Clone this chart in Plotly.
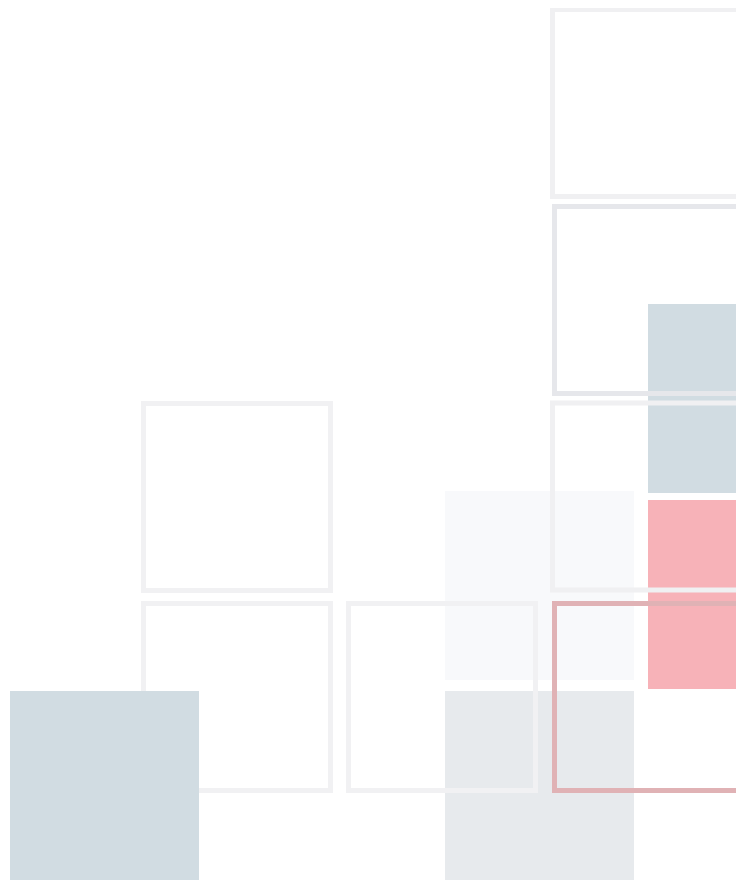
import plotly.graph_objects as go

# Outline squares (grey), centre positions in plot units
outline_x = [646, 648, 646, 237, 237, 442]
outline_y = [103, 300, 496.5, 497, 697, 697]
outline_colors = ["#f0f0f2", "#e6e7eb", "#f0f0f2", "#f1f1f3", "#f1f1f3", "#f1f1f3"]

# Highlighted outline square (pink)
hl_x = [648]
hl_y = [697]

# Filled squares drawn beneath the outlines (centre x, top y, side)
fill_x = [539.5, 539.5, 742.5, 742.5]
fill_top = [491, 691, 304, 500]
fill_side = [189, 189, 189, 189]
fill_colors = ["#f8f9fb", "#e7eaed", "#d1dce2", "#f7b2b8"]

# Filled square drawn on top
top_x = [104.5]
top_y = [785.5]
top_colors = ["#d1dce2"]

fig = go.Figure()

fig.add_trace(go.Bar(
    x=fill_x, y=fill_side, base=fill_top, width=fill_side,
    marker=dict(color=fill_colors, line=dict(width=0)),
    hoverinfo="skip", showlegend=False,
))

fig.add_trace(go.Scatter(
    x=outline_x, y=outline_y, mode="markers",
    marker=dict(symbol="square-open", size=187, color=outline_colors,
                line=dict(width=5)),
    cliponaxis=False, hoverinfo="skip", showlegend=False,
))

fig.add_trace(go.Scatter(
    x=hl_x, y=hl_y, mode="markers",
    marker=dict(symbol="square-open", size=187, color="#e0b2b5",
                line=dict(width=5)),
    cliponaxis=False, hoverinfo="skip", showlegend=False,
))

fig.add_trace(go.Scatter(
    x=top_x, y=top_y, mode="markers",
    marker=dict(symbol="square", size=189, color=top_colors, line=dict(width=0)),
    cliponaxis=False, hoverinfo="skip", showlegend=False,
))

fig.update_layout(
    width=744, height=874,
    margin=dict(l=0, r=13, t=0, b=2),
    paper_bgcolor="white", plot_bgcolor="white",
    barmode="overlay",
    xaxis=dict(range=[8, 739], visible=False, showgrid=False, zeroline=False),
    yaxis=dict(range=[880, 8], visible=False, showgrid=False, zeroline=False),
    showlegend=False,
)

fig.write_html("out.html")
